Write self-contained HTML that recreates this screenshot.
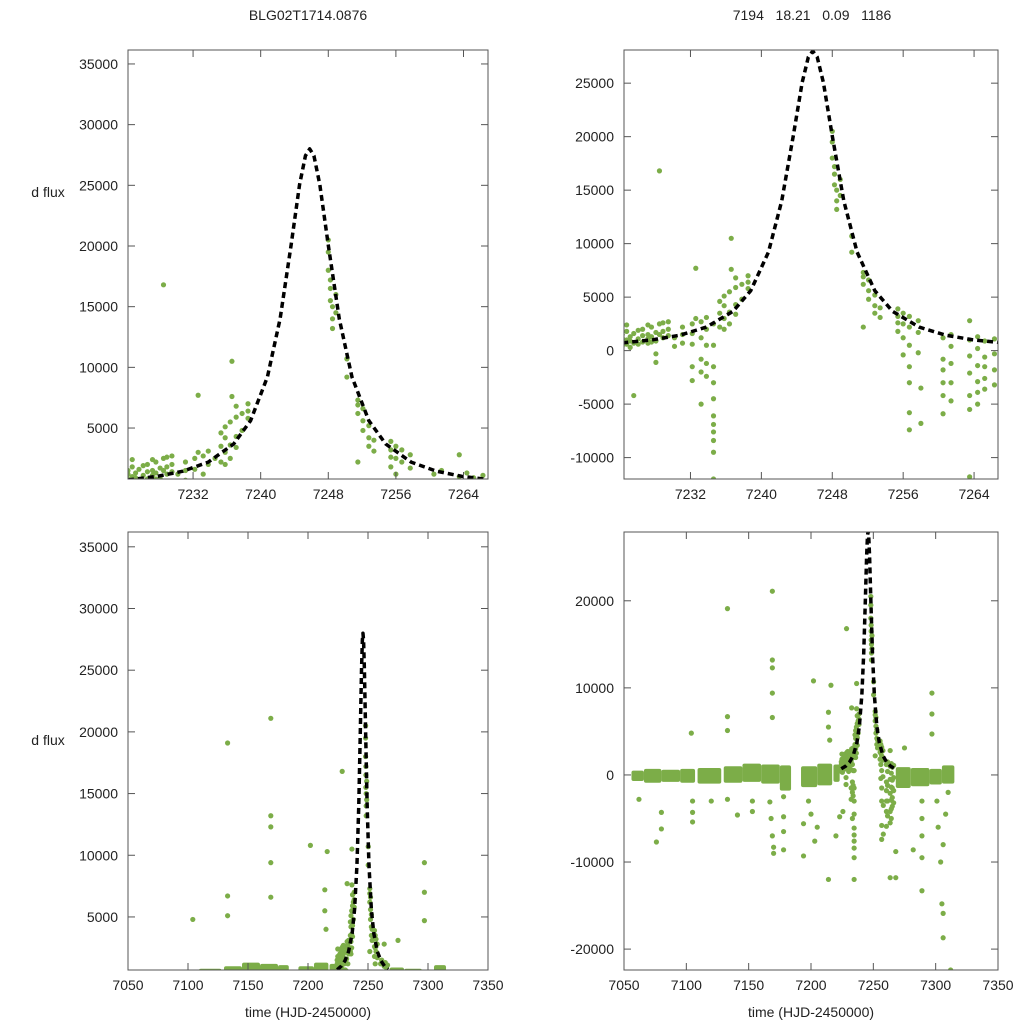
<!DOCTYPE html>
<html><head><meta charset="utf-8">
<style>
html,body{margin:0;padding:0;background:#fff;width:1024px;height:1024px;overflow:hidden;}
svg{display:block;font-family:"Liberation Sans",sans-serif;}
</style></head>
<body>
<svg id="chart" width="1024" height="1024" viewBox="0 0 1024 1024" xmlns="http://www.w3.org/2000/svg">
<text x="308" y="20" text-anchor="middle" font-size="14" fill="#222">BLG02T1714.0876</text>
<text x="812" y="20" text-anchor="middle" font-size="14" fill="#222" xml:space="preserve">7194   18.21   0.09   1186</text>
<text x="48" y="197" text-anchor="middle" font-size="14" fill="#222">d flux</text>
<text x="48" y="745" text-anchor="middle" font-size="14" fill="#222">d flux</text>
<text x="308" y="1017" text-anchor="middle" font-size="14" fill="#222">time (HJD-2450000)</text>
<text x="811" y="1017" text-anchor="middle" font-size="14" fill="#222">time (HJD-2450000)</text>
</svg>
<script>
// ---- data ----
const modelTimes = [7224.3,7227.8,7230.8,7233.8,7236.8,7238.8,7240.8,7242.3,7243.6,7244.6,7245.3,7245.8,7246.3,7247.0,7248.0,7249.3,7250.8,7252.8,7254.8,7257.8,7260.8,7263.8,7266.8];
const modelFlux  = [723,1020,1445,2195,3680,5600,9210,14000,20070,25050,27440,28000,27440,25050,20070,14000,9210,5600,3680,2195,1445,1020,757];
// baseline band segments: start, end, low, high
const bandStart = [7056,7066,7080,7095,7109,7130,7145,7160,7175,7192,7205,7218,7268,7280,7295,7305];
const bandEnd   = [7066,7080,7095,7107,7128,7145,7160,7175,7184,7205,7217,7223,7280,7295,7305,7315];
const bandLow   = [-700,-900,-800,-900,-1000,-900,-800,-1000,-1800,-1400,-1200,-800,-1500,-1300,-1100,-1000];
const bandHigh  = [500,700,600,700,800,1000,1300,1200,1100,1000,1300,1200,900,800,700,1100];
// individual observations (time, flux)
const obsTimes = [
7224.3,7224.3,7224.3,7224.3,7224.8,7224.8,7224.8,7224.8,7225.2,7225.2,7225.2,7225.6,7225.6,7225.6,
7226.1,7226.1,7226.1,7226.6,7226.6,7226.6,7227.2,7227.2,7227.2,7227.2,7227.6,7227.6,7227.6,
7228.1,7228.1,7228.1,7228.1,7228.5,7228.5,7228.5,7228.9,7228.9,7228.9,7229.5,7229.5,7229.5,
7230.2,7230.2,7231.1,7231.1,7231.1,7232.2,7232.2,7232.2,7232.2,7232.2,7232.6,7232.6,
7233.2,7233.2,7233.2,7233.2,7233.2,7233.8,7233.8,7233.8,7233.8,7233.8,
7234.6,7234.6,7234.6,7234.6,7234.6,7234.6,7234.6,7234.6,7234.6,7234.6,7234.6,
7235.3,7235.3,7235.3,7235.8,7235.8,7235.8,7235.8,7236.4,7236.4,7236.4,7236.6,7236.6,
7237.1,7237.1,7237.1,7237.1,7237.8,7237.8,7238.5,7238.5,7238.5,
7248.0,7248.0,7248.0,7248.25,7248.25,7248.25,7248.5,7248.5,7248.5,7248.9,7248.9,7250.2,7250.2,
7251.5,7251.5,7251.5,7251.5,7252.1,7252.1,7252.1,7252.8,7252.8,7252.8,7253.4,7253.4,
7255.4,7255.4,7255.4,7255.4,7256.0,7256.0,7256.0,7256.0,7256.7,7256.7,7256.7,7256.7,7256.7,7256.7,7256.7,
7257.7,7257.7,7257.7,7260.5,7260.5,7260.5,7260.5,7260.5,7260.5,7261.4,7261.4,7261.4,7261.4,7261.4,
7263.5,7263.5,7263.5,7263.5,7263.5,7263.5,7263.5,7264.4,7264.4,7264.4,7264.4,7264.4,7264.4,
7265.2,7265.2,7265.2,7265.2,7265.2,7266.3,7266.3,7266.3,7266.3,
7169,7169,7169,7169,7169,7133,7133,7133,7202,7216,7297,7297,7297,7104,7214,7214,7215,7275,
7062,7076,7080,7080,7105,7105,7105,7120,7133,7141,7153,7153,7167,7168,7169,7170,7170,
7178,7178,7178,7178,7194,7194,7198,7200,7203,7205,7214,7220,7223,7258,7258,7268,7268,
7282,7289,7289,7289,7289,7289,7301,7302,7304,7305,7306,7306,7306,7308,7310,7312];
const obsFlux = [
800,1200,400,1500,600,2400,1800,1000,900,1300,300,-4200,700,1600,
1100,600,1900,800,1400,2000,700,1500,2400,1100,1300,2200,800,
900,1700,-300,-1100,16800,1500,2500,1800,2600,1200,2000,1400,2700,
1200,400,2200,700,1500,2500,1600,-1500,-2800,600,7700,3000,
1200,-800,-2000,-5000,2700,2000,500,-1200,-2400,3100,
2500,500,-1500,-3000,-4500,-6100,-6900,-7600,-8400,-9500,-12000,
2200,3500,4600,3000,5100,4200,2000,3600,5500,2500,10500,7600,
4300,5900,6800,3400,4800,6200,5800,7000,6400,
20500,19500,18000,17200,16500,15500,15000,14000,13200,14500,16000,10700,9200,
7300,6900,6200,2200,6600,5600,4800,5200,4200,3500,4000,3100,
3900,3200,2600,1800,3500,2500,1200,-400,3200,2200,500,-1500,-3000,-5800,-7400,
2800,1700,-200,1200,-800,-1800,-3000,-4200,-5900,1500,400,-1200,-3000,-4700,
2800,1000,-500,-2100,-4200,-5500,-11800,1300,200,-1400,-2900,-3900,-5000,
900,-600,-1500,-2600,-3600,1100,-300,-1800,-3200,
21100,13200,12300,9400,6600,19100,6700,5100,10800,10300,9400,7000,4700,4800,7200,5500,4000,3100,
-2800,-7700,-4300,-6200,-3000,-4300,-5400,-3000,-2800,-4600,-3000,-4200,-3100,-5000,-7000,-8300,-9000,
-2500,-4800,-6500,-8600,-5600,-9300,-3000,-4500,-7600,-6000,-12000,-7000,-4800,-6800,-3500,-8800,-11800,
-8600,-3000,-5000,-7000,-9500,-13300,-3000,-6000,-10000,-14800,-15900,-18700,-8000,-4500,-2000,-22400];
// ---- panel axes ----
const panels = [
 {id:'top-left', x0:128,x1:488,y0:50,y1:479,tmin:7224.3,tmax:7266.9,fmin:800,fmax:36150,
  xt:[7232,7240,7248,7256,7264], yt:[5000,10000,15000,20000,25000,30000,35000]},
 {id:'top-right', x0:624,x1:998,y0:50,y1:479,tmin:7224.5,tmax:7266.7,fmin:-12000,fmax:28100,
  xt:[7232,7240,7248,7256,7264], yt:[-10000,-5000,0,5000,10000,15000,20000,25000]},
 {id:'bottom-left', x0:128,x1:488,y0:532,y1:970,tmin:7050,tmax:7350,fmin:700,fmax:36200,
  xt:[7050,7100,7150,7200,7250,7300,7350], yt:[5000,10000,15000,20000,25000,30000,35000]},
 {id:'bottom-right', x0:624,x1:998,y0:532,y1:970,tmin:7050,tmax:7350,fmin:-22400,fmax:27900,
  xt:[7050,7100,7150,7200,7250,7300,7350], yt:[-20000,-10000,0,10000,20000]}
];
const NS='http://www.w3.org/2000/svg';
const svg=document.getElementById('chart');
function mk(tag,attrs,parent){const e=document.createElementNS(NS,tag);for(const k in attrs)e.setAttribute(k,attrs[k]);(parent||svg).appendChild(e);return e;}
const defs=mk('defs',{});
const GREEN='#7cad48';
panels.forEach((p,pi)=>{
  const X=t=>p.x0+(t-p.tmin)/(p.tmax-p.tmin)*(p.x1-p.x0);
  const Y=f=>p.y1-(f-p.fmin)/(p.fmax-p.fmin)*(p.y1-p.y0);
  const cp=mk('clipPath',{id:'clip'+pi},defs);
  mk('rect',{x:p.x0,y:p.y0,width:p.x1-p.x0,height:p.y1-p.y0},cp);
  const g=mk('g',{'clip-path':'url(#clip'+pi+')'});
  
  
  for(let i=0;i<bandStart.length;i++){
    const r=mk('rect',{x:X(bandStart[i]),width:Math.max(1,X(bandEnd[i])-X(bandStart[i])),y:Y(bandHigh[i]),height:Y(bandLow[i])-Y(bandHigh[i]),fill:GREEN,rx:2},g);
    
    
  }
  for(let i=0;i<obsTimes.length;i++){
    const c=mk('circle',{cx:X(obsTimes[i]),cy:Y(obsFlux[i]),r:2.6,fill:GREEN},g);
    
    
  }
  let d='';
  modelTimes.forEach((t,i)=>{d+=(i?'L':'M')+X(t).toFixed(2)+','+Y(modelFlux[i]).toFixed(1);});
  const path=mk('path',{d:d,fill:'none',stroke:'#000','stroke-width':3.5,'stroke-dasharray':'6,4','stroke-linejoin':'round'},g);
  
  
  const frame=mk('rect',{x:p.x0,y:p.y0,width:p.x1-p.x0,height:p.y1-p.y0,fill:'none',stroke:'#555','stroke-width':1});
  
  
  p.xt.forEach(t=>{
    const x=X(t);
    mk('line',{x1:x,x2:x,y1:p.y1,y2:p.y1-7,stroke:'#555'});
    mk('line',{x1:x,x2:x,y1:p.y0,y2:p.y0+7,stroke:'#555'});
    const tx=mk('text',{x:x,y:p.y1+20,'text-anchor':'middle','font-size':14,fill:'#222'});
    tx.textContent=t;
    
    
  });
  p.yt.forEach(f=>{
    const y=Y(f);
    mk('line',{x1:p.x0,x2:p.x0+7,y1:y,y2:y,stroke:'#555'});
    mk('line',{x1:p.x1,x2:p.x1-7,y1:y,y2:y,stroke:'#555'});
    const tx=mk('text',{x:p.x0-10,y:y+5,'text-anchor':'end','font-size':14,fill:'#222'});
    tx.textContent=f;
    
    
  });
});
</script>
</body></html>
